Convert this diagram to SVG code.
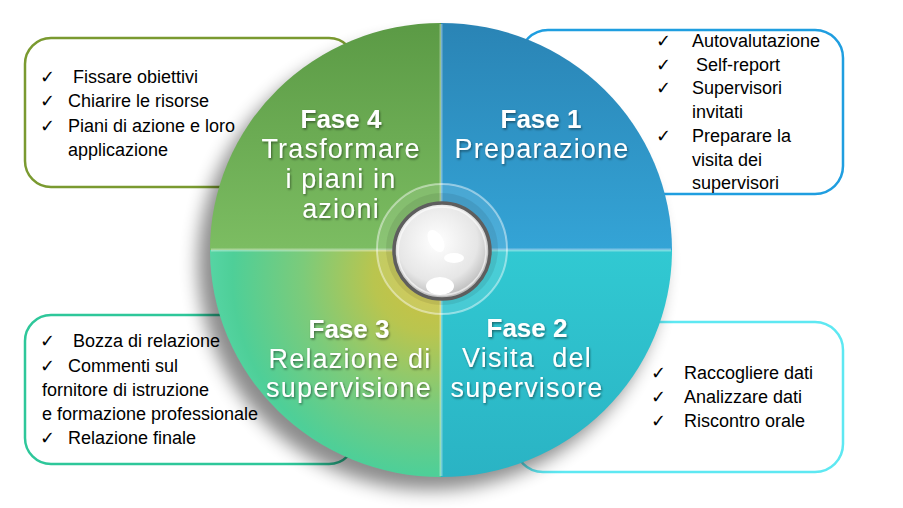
<svg xmlns="http://www.w3.org/2000/svg" width="903" height="508" viewBox="0 0 903 508">
<defs>
<style>
.box{fill:#fff;stroke-width:2.5}
.li{font-family:"Liberation Sans",Arial,sans-serif;font-size:18px;fill:#000}
.ck{font-family:"DejaVu Sans",sans-serif;font-size:18px;fill:#000}
.ph{font-family:"Liberation Sans",Arial,sans-serif;fill:#fff;text-anchor:middle;filter:url(#ts)}
.hd{font-size:26px;font-weight:bold}
.nm{font-size:27px;letter-spacing:1.2px}
</style>
<filter id="ts" x="-10%" y="-30%" width="120%" height="160%">
<feDropShadow dx="1" dy="1.5" stdDeviation="1" flood-color="#000" flood-opacity="0.45"/>
</filter>
<filter id="sh" x="-20%" y="-20%" width="140%" height="140%">
<feGaussianBlur stdDeviation="9"/>
</filter>
<linearGradient id="g4" x1="0" y1="0" x2="0" y2="1">
<stop offset="0" stop-color="#5b9a45"/><stop offset="1" stop-color="#7cbd62"/>
</linearGradient>
<linearGradient id="g1" x1="0" y1="0" x2="0" y2="1">
<stop offset="0" stop-color="#2a84b5"/><stop offset="1" stop-color="#34a4d6"/>
</linearGradient>
<linearGradient id="g2" x1="0" y1="0" x2="0" y2="1">
<stop offset="0" stop-color="#31c9d2"/><stop offset="1" stop-color="#2ab3c4"/>
</linearGradient>
<radialGradient id="g3" gradientUnits="userSpaceOnUse" cx="432" cy="275" r="235">
<stop offset="0" stop-color="#d0c03e"/><stop offset="0.25" stop-color="#b9c54f"/><stop offset="0.55" stop-color="#7ccb7a"/><stop offset="0.85" stop-color="#4ecf98"/><stop offset="1" stop-color="#5ad8aa"/>
</radialGradient>
<radialGradient id="kn" cx="0.45" cy="0.4" r="0.6">
<stop offset="0" stop-color="#ffffff"/><stop offset="0.7" stop-color="#e6e6e6"/><stop offset="1" stop-color="#b8b8b8"/>
</radialGradient>
</defs>

<g id="box4"><rect class="box" x="25" y="38" width="330" height="149" rx="26" stroke="#7a9a30"/>
<text class="ck" x="40" y="83">✓</text><text class="li" x="73" y="83">Fissare obiettivi</text>
<text class="ck" x="40" y="107">✓</text><text class="li" x="68" y="107">Chiarire le risorse</text>
<text class="ck" x="40" y="132">✓</text><text class="li" x="68" y="132">Piani di azione e loro</text>
<text class="li" x="68" y="156">applicazione</text></g>

<g id="box1"><rect class="box" x="520" y="30" width="323" height="164" rx="28" stroke="#1f9ee0"/>
<text class="ck" x="656" y="47">✓</text><text class="li" x="692" y="47">Autovalutazione</text>
<text class="ck" x="656" y="71">✓</text><text class="li" x="696" y="71">Self-report</text>
<text class="ck" x="656" y="94">✓</text><text class="li" x="692" y="94">Supervisori</text>
<text class="li" x="692" y="118">invitati</text>
<text class="ck" x="656" y="142">✓</text><text class="li" x="692" y="142">Preparare la</text>
<text class="li" x="692" y="166">visita dei</text>
<text class="li" x="692" y="189">supervisori</text></g>

<g id="box3"><rect class="box" x="25" y="315" width="330" height="149" rx="26" stroke="#2ec79a"/>
<text class="ck" x="40" y="347">✓</text><text class="li" x="73" y="347">Bozza di relazione</text>
<text class="ck" x="40" y="372">✓</text><text class="li" x="68" y="372">Commenti sul</text>
<text class="li" x="42" y="396">fornitore di istruzione</text>
<text class="li" x="42" y="420">e formazione professionale</text>
<text class="ck" x="40" y="444">✓</text><text class="li" x="68" y="444">Relazione finale</text></g>

<g id="box2"><rect class="box" x="515" y="322" width="328" height="150" rx="28" stroke="#5ee8f2"/>
<text class="ck" x="651" y="379">✓</text><text class="li" x="684" y="379">Raccogliere dati</text>
<text class="ck" x="651" y="403">✓</text><text class="li" x="684" y="403">Analizzare dati</text>
<text class="ck" x="651" y="427">✓</text><text class="li" x="684" y="427">Riscontro orale</text></g>

<ellipse cx="430" cy="264" rx="232" ry="226" fill="#000" opacity="0.45" filter="url(#sh)"/>

<g id="fase4"><path d="M441,250 L210,250 A231,227 0 0 1 441,23 Z" fill="url(#g4)"/>
<text class="ph hd" x="341" y="128">Fase 4</text>
<text class="ph nm" x="341" y="158">Trasformare</text>
<text class="ph nm" x="341" y="188">i piani in</text>
<text class="ph nm" x="341" y="218">azioni</text></g>

<g id="fase1"><path d="M441,250 L441,23 A231,227 0 0 1 672,250 Z" fill="url(#g1)"/>
<text class="ph hd" x="541" y="128">Fase 1</text>
<text class="ph nm" x="542" y="158">Preparazione</text></g>

<g id="fase2"><path d="M441,250 L672,250 A231,227 0 0 1 441,477 Z" fill="url(#g2)"/>
<text class="ph hd" x="527" y="337">Fase 2</text>
<text class="ph nm" x="527" y="367">Visita&#160; del</text>
<text class="ph nm" x="527" y="397">supervisore</text></g>

<g id="fase3"><path d="M441,250 L441,477 A231,227 0 0 1 210,250 Z" fill="url(#g3)"/>
<text class="ph hd" x="349" y="338">Fase 3</text>
<text class="ph nm" x="350" y="368">Relazione di</text>
<text class="ph nm" x="349" y="397">supervisione</text></g>

<g id="dividers" stroke="#fff" stroke-opacity="0.35" stroke-width="3" fill="none">
<line x1="211" y1="250" x2="671" y2="250"/>
<line x1="441" y1="24" x2="441" y2="476"/>
</g>

<g id="hub">
<circle cx="442" cy="249" r="65" fill="#fff" fill-opacity="0.12" stroke="#fff" stroke-opacity="0.45" stroke-width="2"/>
<circle cx="442" cy="249" r="56" fill="#000" fill-opacity="0.08"/>
<circle cx="442" cy="251" r="48" fill="url(#kn)" stroke="#5e5e5e" stroke-width="3.5"/>
<circle cx="442" cy="251" r="44" fill="none" stroke="#fff" stroke-opacity="0.6" stroke-width="1.5"/>
<ellipse cx="436" cy="241" rx="7" ry="12" transform="rotate(-30 436 241)" fill="#fff"/>
<ellipse cx="454" cy="258" rx="10" ry="5" fill="#fff"/>
<ellipse cx="440" cy="286" rx="14" ry="9" fill="#fff"/>
</g>
</svg>
